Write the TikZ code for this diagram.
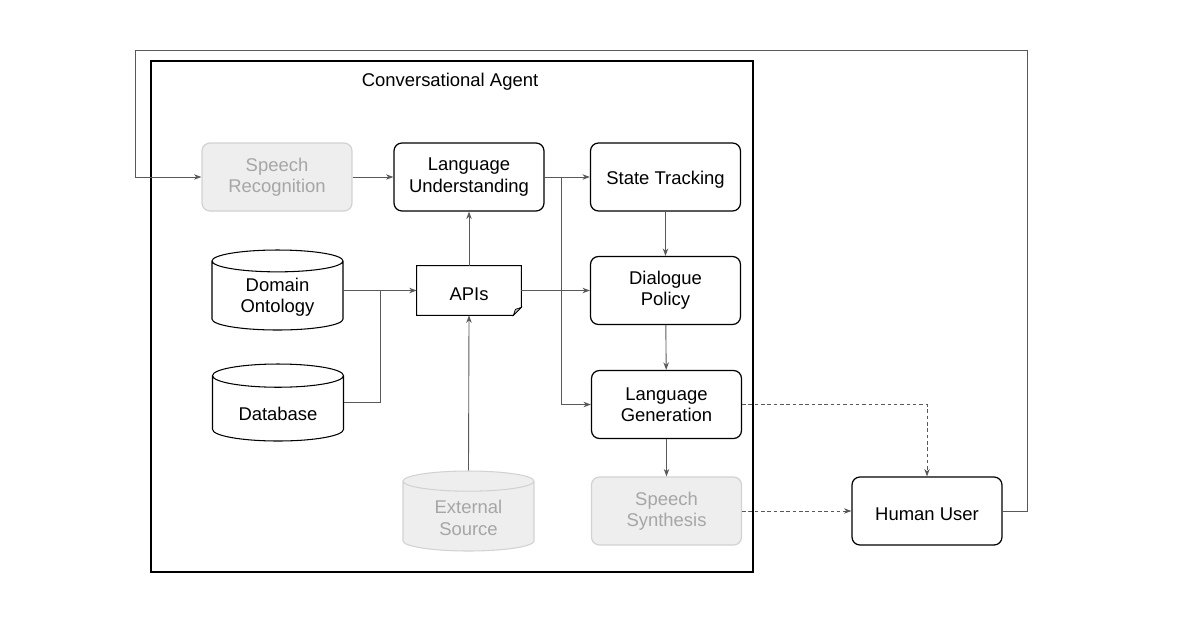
\documentclass[tikz,border=0pt]{standalone}
\usepackage{fontspec}
\setmainfont{Liberation Sans}
\usetikzlibrary{shapes.geometric, arrows.meta, positioning, calc}
\tikzset{
  low/.style={execute at begin node={\rule{0pt}{1.05em}}},
  blk/.style={draw=black, line width=0.7pt, rounded corners=4.5pt, align=center,
    minimum width=3cm, minimum height=1.36cm, inner sep=2pt, low},
  dim/.style={blk, draw=gray!35, fill=gray!13, text=gray!70},
  store/.style={cylinder, shape border rotate=90, aspect=0.27, draw=black, line width=0.6pt,
    align=center, minimum width=2.62cm, minimum height=1.6cm, inner sep=2pt, anchor=shape center, low},
  dimstore/.style={store, draw=gray!35, fill=gray!13, text=gray!70},
  frame/.style={draw=black, line width=1.4pt},
  arr/.style={-{Stealth[length=1.5mm, width=1.1mm]}, draw=black!65, line width=0.5pt},
  dasharr/.style={arr, dash pattern=on 2pt off 1.6pt},
}

\begin{document}
\begin{tikzpicture}[x=0.02cm, y=-0.02cm, font=\fontsize{10.5}{12.2}\selectfont]
  \useasboundingbox (0,0) rectangle (1200,630);
  \node[frame, minimum width=12.04cm, minimum height=10.22cm] (agent) at (452,316.5) {};
  \node (title) at (450,82) {Conversational Agent};

  \node[dim] (sr) at (277,177) {Speech\\Recognition};
  \node[blk] (lu) at (469,177) {Language\\Understanding};
  \node[blk] (st) at (665.5,177) {State Tracking};
  \node[blk] (dp) at (665.5,290.5) {Dialogue\\Policy};
  \node[blk] (lg) at (666.5,404.5) {Language\\Generation};
  \node[dim] (ss) at (666.5,511) {Speech\\Synthesis};
  \node[blk] (hu) at (927,511) {Human User};

  % APIs page with folded corner
  \node[minimum width=2.08cm, minimum height=0.98cm, low] (api) at (469,290.5) {APIs};
  \draw[line width=0.6pt] (api.north west) -- (api.north east) -- ($(api.south east)+(0,-8)$)
    -- ($(api.south east)+(-8,0)$) -- (api.south west) -- cycle;
  \fill[gray!45, draw=black, line width=0.4pt] ($(api.south east)+(0,-8)$) -- ($(api.south east)+(-8,0)$)
    -- ($(api.south east)+(-6,-6)$) -- cycle;

  \node[store] (onto) at (277.5,290) {Domain\\Ontology};
  \node[store, minimum height=1.54cm] (db) at (278,402.5) {Database};
  \node[dimstore] (ext) at (468.5,511) {External\\Source};

  \coordinate (loopr) at (1027,50);
  \coordinate (loopl) at (135,50);
  \coordinate (split) at (561,177);
  \coordinate (join) at (380,290.5);

  \draw[arr] (hu.east) -| (loopr) -- (loopl) |- (sr.west);
  \draw[arr] (sr) -- (lu);
  \draw[arr] (lu) -- (st);
  \draw[arr] (split) |- (lg.west);
  \draw[arr] (st) -- (dp);
  \draw[arr] (dp) -- (lg);
  \draw[arr] (lg) -- (ss);
  \draw[arr] (api.north) -- (lu.south);
  \draw[arr] (api.east) -- (api.east -| dp.west);
  \draw[arr] (ext.north) -- (api.south);
  \draw[arr] (api.west -| onto.east) -- (api.west);
  \draw[draw=black!65, line width=0.5pt] (db.east |- db.shape center) -| (join);
  \draw[dasharr] (lg.east) -| (hu.north);
  \draw[dasharr] (ss) -- (hu);
\end{tikzpicture}
\end{document}
